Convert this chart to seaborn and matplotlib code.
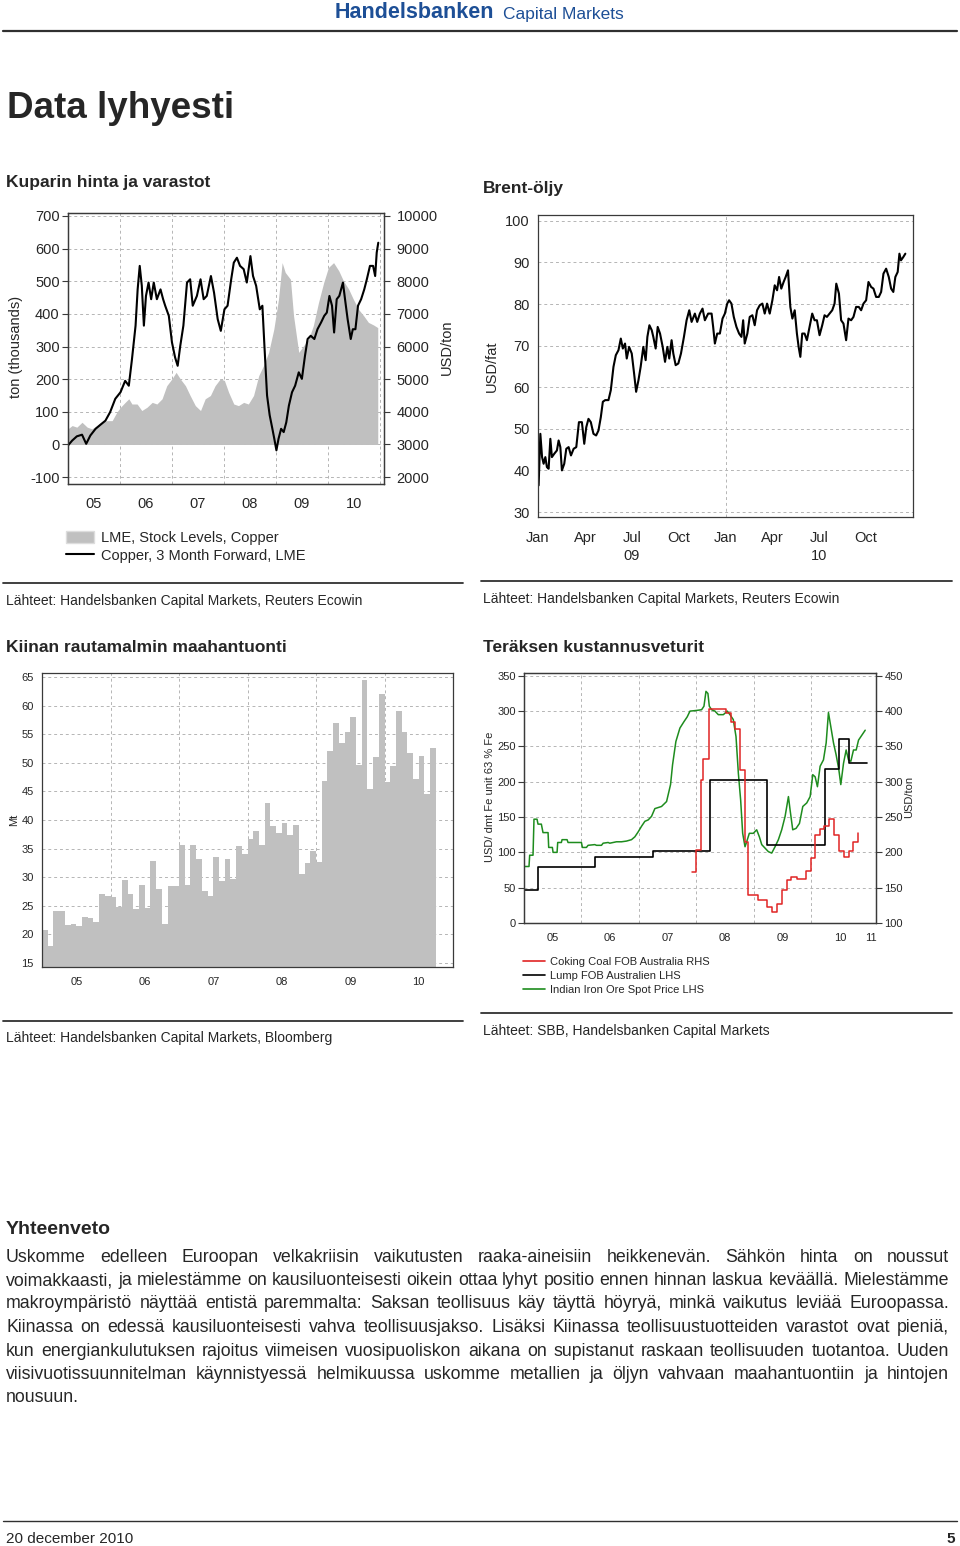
import pandas as pd
import seaborn as sns
import matplotlib.pyplot as plt
from matplotlib import font_manager
from matplotlib.lines import Line2D
from matplotlib.patches import Patch
from matplotlib.ticker import FixedLocator, FixedFormatter, NullFormatter

# ---- data ----
# copper: LME stocks (thousand tonnes, LHS) and 3M forward price (USD/ton, RHS)
copper_stocks = [
    (2005.00, 48), (2005.08, 58), (2005.17, 53), (2005.27, 68), (2005.37, 53), (2005.46, 48),
    (2005.56, 58), (2005.65, 68), (2005.75, 73), (2005.85, 73), (2005.94, 99), (2006.01, 114),
    (2006.10, 129), (2006.17, 140), (2006.23, 124), (2006.33, 124), (2006.42, 104), (2006.52, 114),
    (2006.62, 129), (2006.71, 124), (2006.81, 140), (2006.90, 180), (2007.00, 201), (2007.08, 221),
    (2007.16, 201), (2007.26, 180), (2007.35, 150), (2007.45, 119), (2007.55, 104), (2007.64, 140),
    (2007.74, 150), (2007.83, 180), (2007.93, 201), (2008.01, 196), (2008.09, 160), (2008.19, 124),
    (2008.28, 119), (2008.38, 129), (2008.47, 124), (2008.57, 150), (2008.67, 211), (2008.76, 241),
    (2008.86, 282), (2008.96, 353), (2009.05, 445), (2009.12, 557), (2009.18, 527), (2009.28, 506),
    (2009.34, 394), (2009.44, 282), (2009.53, 302), (2009.63, 323), (2009.72, 364), (2009.82, 435),
    (2009.92, 496), (2010.01, 542), (2010.11, 557), (2010.21, 532), (2010.30, 501), (2010.40, 476),
    (2010.49, 445), (2010.59, 414), (2010.69, 394), (2010.78, 374), (2010.88, 366), (2010.96, 358),
]
copper_price = [
    (2005.00, 2970), (2005.08, 3120), (2005.17, 3250), (2005.27, 3300), (2005.35, 3020), (2005.43, 3275),
    (2005.53, 3480), (2005.62, 3600), (2005.72, 3730), (2005.81, 3990), (2005.91, 4400), (2006.01, 4600),
    (2006.10, 4950), (2006.17, 4800), (2006.23, 5600), (2006.30, 6640), (2006.34, 7750), (2006.38, 8470),
    (2006.42, 7860), (2006.46, 6640), (2006.50, 7550), (2006.55, 7960), (2006.60, 7450), (2006.65, 7960),
    (2006.71, 7450), (2006.78, 7750), (2006.83, 7450), (2006.87, 7250), (2006.94, 6940), (2007.00, 6130),
    (2007.06, 5670), (2007.11, 5410), (2007.16, 6020), (2007.22, 6640), (2007.29, 7960), (2007.35, 8060),
    (2007.40, 7250), (2007.48, 7550), (2007.55, 8060), (2007.61, 7450), (2007.67, 7550), (2007.75, 8160),
    (2007.81, 7650), (2007.88, 6840), (2007.94, 6480), (2008.01, 7140), (2008.07, 7250), (2008.14, 8060),
    (2008.19, 8570), (2008.25, 8720), (2008.31, 8470), (2008.38, 8370), (2008.44, 7960), (2008.51, 8770),
    (2008.56, 8160), (2008.62, 7860), (2008.69, 7140), (2008.74, 7250), (2008.78, 6000), (2008.83, 4500),
    (2008.88, 3900), (2008.93, 3500), (2008.97, 3170), (2009.01, 2820), (2009.05, 3170), (2009.10, 3480),
    (2009.15, 3380), (2009.20, 3680), (2009.25, 4190), (2009.31, 4600), (2009.37, 4800), (2009.44, 5210),
    (2009.50, 5010), (2009.56, 5720), (2009.61, 6230), (2009.67, 6330), (2009.74, 6230), (2009.80, 6530),
    (2009.87, 6740), (2009.93, 6940), (2009.98, 7040), (2010.03, 7550), (2010.08, 7250), (2010.12, 6430),
    (2010.17, 7450), (2010.22, 7550), (2010.29, 7960), (2010.33, 7450), (2010.38, 6840), (2010.44, 6230),
    (2010.48, 6530), (2010.53, 6530), (2010.58, 7250), (2010.64, 7450), (2010.70, 7750), (2010.75, 8060),
    (2010.81, 8470), (2010.87, 8470), (2010.91, 8160), (2010.94, 8880), (2010.97, 9180),
]

# brent: months since Jan 2009, USD/barrel
brent = [
    (0.04, 36.4), (0.15, 48.8), (0.26, 43.2), (0.36, 41.6), (0.47, 43.2), (0.57, 40.8), (0.68, 40.4),
    (0.79, 47.6), (0.89, 43.2), (1.04, 44.0), (1.21, 44.8), (1.32, 47.2), (1.43, 45.6), (1.53, 40.0),
    (1.68, 41.6), (1.81, 45.2), (1.96, 45.6), (2.11, 43.6), (2.28, 45.2), (2.45, 45.6), (2.62, 51.6),
    (2.81, 51.6), (2.96, 46.4), (3.09, 50.4), (3.23, 52.4), (3.38, 51.6), (3.55, 48.8), (3.72, 48.4),
    (3.87, 49.6), (4.02, 52.8), (4.15, 56.5), (4.30, 56.9), (4.51, 56.9), (4.66, 59.3), (4.83, 64.9),
    (4.98, 67.7), (5.15, 68.9), (5.30, 71.7), (5.43, 69.3), (5.57, 70.5), (5.68, 66.9), (5.83, 69.7),
    (6.00, 68.1), (6.15, 63.3), (6.28, 58.9), (6.43, 61.7), (6.57, 64.9), (6.74, 69.7), (6.89, 66.5),
    (7.00, 72.1), (7.13, 74.9), (7.28, 73.7), (7.38, 72.1), (7.53, 69.3), (7.66, 74.5), (7.81, 72.9),
    (7.98, 69.7), (8.13, 66.1), (8.28, 69.7), (8.40, 66.9), (8.55, 71.3), (8.66, 68.1), (8.81, 65.3),
    (8.98, 65.7), (9.15, 68.1), (9.34, 72.1), (9.51, 76.1), (9.68, 78.5), (9.83, 75.7), (10.04, 77.7),
    (10.19, 75.7), (10.36, 77.7), (10.53, 78.9), (10.68, 76.1), (10.89, 77.7), (11.11, 77.7), (11.21, 74.5),
    (11.32, 70.5), (11.47, 72.9), (11.64, 72.9), (11.81, 76.5), (11.96, 77.7), (12.11, 80.1), (12.23, 80.9),
    (12.38, 80.1), (12.53, 76.9), (12.70, 74.5), (12.87, 72.9), (13.02, 72.1), (13.13, 76.1), (13.23, 70.5),
    (13.40, 72.9), (13.55, 76.9), (13.72, 77.3), (13.87, 74.9), (14.02, 78.5), (14.19, 79.7), (14.36, 80.1),
    (14.51, 77.7), (14.66, 80.1), (14.83, 77.7), (15.00, 80.9), (15.15, 84.5), (15.30, 83.3), (15.43, 86.5),
    (15.57, 83.7), (15.72, 85.3), (15.85, 86.5), (16.00, 88.1), (16.15, 79.3), (16.28, 76.5), (16.43, 78.5),
    (16.57, 72.9), (16.68, 69.7), (16.79, 67.3), (16.91, 72.9), (17.06, 72.9), (17.21, 71.3), (17.38, 74.5),
    (17.55, 77.7), (17.70, 76.1), (17.85, 76.1), (18.02, 72.5), (18.19, 74.9), (18.34, 77.3), (18.49, 76.9),
    (18.66, 77.7), (18.83, 78.5), (18.98, 80.1), (19.09, 84.9), (19.26, 82.5), (19.40, 76.1), (19.55, 75.3),
    (19.72, 71.3), (19.87, 76.5), (20.04, 76.1), (20.19, 76.9), (20.36, 79.3), (20.53, 79.3), (20.68, 78.5),
    (20.83, 80.1), (21.00, 80.9), (21.15, 85.3), (21.32, 84.1), (21.47, 83.7), (21.64, 81.7), (21.81, 81.7),
    (21.96, 82.9), (22.11, 87.3), (22.28, 88.5), (22.45, 86.5), (22.60, 83.7), (22.74, 82.9), (22.87, 86.5),
    (23.02, 87.7), (23.13, 92.1), (23.23, 90.5), (23.38, 91.3), (23.51, 92.1),
]
brent_ticks = ["Jan", "Apr", "Jul\n09", "Oct", "Jan", "Apr", "Jul\n10", "Oct"]

# China iron ore imports, Mt per month from Jan 2005
ore_imports = [
    20.7, 18.0, 24.1, 24.1, 21.6, 21.9, 21.5, 23.0, 22.9, 22.2, 27.1, 26.7,
    26.5, 24.8, 29.5, 27.1, 24.5, 28.6, 24.7, 32.8, 28.0, 21.9, 28.4, 28.5,
    35.7, 28.6, 35.6, 33.2, 27.5, 26.8, 33.5, 29.3, 33.1, 29.7, 35.4, 34.1,
    36.7, 38.1, 35.7, 42.9, 38.9, 37.7, 39.5, 37.3, 39.2, 30.6, 32.5, 34.5,
    32.7, 46.8, 52.1, 57.0, 53.4, 55.3, 58.0, 49.6, 64.5, 45.5, 51.1, 62.1,
    46.6, 49.4, 59.0, 55.3, 51.8, 47.2, 51.2, 44.6, 52.6,
]

# steel cost drivers (LHS USD/dmt Fe unit, RHS USD/ton)
iron_ore_spot = [
    (2005.000, 80), (2005.087, 80), (2005.099, 96), (2005.157, 96), (2005.174, 147), (2005.227, 147),
    (2005.244, 140), (2005.302, 140), (2005.331, 128), (2005.419, 128), (2005.430, 107), (2005.494, 107),
    (2005.506, 100), (2005.576, 100), (2005.587, 114), (2005.651, 114), (2005.663, 118), (2005.750, 118),
    (2005.767, 114), (2006.000, 114), (2006.017, 107), (2006.087, 107), (2006.116, 110), (2006.233, 111),
    (2006.262, 110), (2006.349, 110), (2006.378, 113), (2006.465, 114), (2006.494, 113), (2006.552, 114),
    (2006.610, 115), (2006.698, 115), (2006.785, 116), (2006.872, 118), (2006.930, 122), (2006.988, 129),
    (2007.047, 137), (2007.105, 144), (2007.163, 146), (2007.221, 151), (2007.279, 162), (2007.395, 165),
    (2007.483, 172), (2007.552, 196), (2007.587, 224), (2007.645, 257), (2007.715, 276), (2007.785, 285),
    (2007.843, 292), (2007.890, 300), (2008.006, 301), (2008.093, 302), (2008.134, 307), (2008.169, 328),
    (2008.203, 325), (2008.227, 307), (2008.267, 302), (2008.326, 300), (2008.384, 295), (2008.471, 295),
    (2008.541, 300), (2008.587, 295), (2008.645, 288), (2008.692, 264), (2008.733, 212), (2008.773, 174),
    (2008.808, 127), (2008.849, 108), (2008.878, 115), (2008.924, 127), (2008.994, 127), (2009.052, 132),
    (2009.099, 122), (2009.140, 111), (2009.198, 106), (2009.256, 101), (2009.314, 99), (2009.372, 108),
    (2009.430, 118), (2009.488, 132), (2009.547, 151), (2009.605, 179), (2009.634, 160), (2009.680, 132),
    (2009.738, 134), (2009.797, 141), (2009.855, 165), (2009.924, 170), (2009.983, 179), (2010.029, 210),
    (2010.070, 207), (2010.110, 193), (2010.157, 222), (2010.215, 231), (2010.262, 255), (2010.302, 298),
    (2010.343, 278), (2010.390, 255), (2010.436, 238), (2010.483, 217), (2010.517, 196), (2010.564, 226),
    (2010.610, 245), (2010.651, 231), (2010.692, 229), (2010.738, 245), (2010.785, 245), (2010.826, 259),
    (2010.884, 266), (2010.942, 273),
]
lump_fob = [
    (2005.00, 47), (2005.25, 79), (2006.24, 93), (2007.24, 102), (2008.24, 202),
    (2009.24, 111), (2010.24, 218), (2010.49, 260), (2010.66, 226), (2010.98, 226),
]
coking_coal = [
    (2007.919, 172), (2007.994, 204), (2008.076, 303), (2008.122, 332), (2008.221, 403), (2008.517, 397),
    (2008.599, 385), (2008.674, 375), (2008.762, 317), (2008.855, 215), (2008.895, 140), (2009.081, 133),
    (2009.238, 123), (2009.326, 115), (2009.413, 127), (2009.500, 147), (2009.576, 161), (2009.657, 165),
    (2009.750, 162), (2009.907, 173), (2009.994, 192), (2010.076, 225), (2010.157, 233), (2010.227, 237),
    (2010.314, 247), (2010.401, 225), (2010.488, 202), (2010.576, 194), (2010.663, 202), (2010.738, 215),
    (2010.814, 227),
]

summary_lines = [
    "Uskomme edelleen Euroopan velkakriisin vaikutusten raaka-aineisiin heikkenevän. Sähkön hinta on noussut",
    "voimakkaasti, ja mielestämme on kausiluonteisesti oikein ottaa lyhyt positio ennen hinnan laskua keväällä. Mielestämme",
    "makroympäristö näyttää entistä paremmalta: Saksan teollisuus käy täyttä höyryä, minkä vaikutus leviää Euroopassa.",
    "Kiinassa on edessä kausiluonteisesti vahva teollisuusjakso. Lisäksi Kiinassa teollisuustuotteiden varastot ovat pieniä,",
    "kun energiankulutuksen rajoitus viimeisen vuosipuoliskon aikana on supistanut raskaan teollisuuden tuotantoa. Uuden",
    "viisivuotissuunnitelman käynnistyessä helmikuussa uskomme metallien ja öljyn vahvaan maahantuontiin ja hintojen",
    "nousuun.",
]

W, H = 960, 1546
GRAY = "#c0c0c0"
GRID = dict(color="#b5b5b5", linestyle=(0, (3, 3)), linewidth=0.7)
SPINE = "#3a3a3a"


def fx(x):
    return x / W


def fy(y):
    return 1 - y / H


def put_axes(fig, x0, y0, x1, y1):
    return fig.add_axes([fx(x0), fy(y1), (x1 - x0) / W, (y1 - y0) / H])


def frame(ax, size):
    for s in ax.spines.values():
        s.set_color(SPINE)
        s.set_linewidth(0.9)
        s.set_visible(True)
    ax.tick_params(axis="both", which="both", direction="out", length=4, width=0.8,
                   color=SPINE, labelsize=size, pad=2)
    ax.set_xlabel("")
    ax.set_ylabel("")


def year_axis(ax, years, labels, label_pos, size, pad=7):
    ax.xaxis.set_major_locator(FixedLocator(years))
    ax.xaxis.set_major_formatter(NullFormatter())
    ax.xaxis.set_minor_locator(FixedLocator(label_pos))
    ax.xaxis.set_minor_formatter(FixedFormatter(labels))
    ax.tick_params(axis="x", which="minor", length=0, labelsize=size, pad=pad)


def unzip(pairs):
    return [p[0] for p in pairs], [p[1] for p in pairs]


def hline(fig, x0, x1, y, lw=1.3):
    fig.add_artist(Line2D([fx(x0), fx(x1)], [fy(y), fy(y)], color="#303030", lw=lw))


def text(fig, x, y, s, size, bold=False, **kw):
    return fig.text(fx(x), fy(y), s, fontsize=size, fontweight="bold" if bold else "normal",
                    va="center", **kw)


sns.set_style("white")
plt.rcParams["font.family"] = ["Liberation Sans", "DejaVu Sans"]
plt.rcParams["axes.unicode_minus"] = False

installed = {f.name for f in font_manager.fontManager.ttflist}
body_family = ["Liberation Sans Narrow"] if "Liberation Sans Narrow" in installed else ["Liberation Sans"]

fig = plt.figure(figsize=(9.6, 15.46), dpi=100)

# ---- header ----
text(fig, 335, 13, "Handelsbanken", 15.5, bold=True, color="#1d4f96")
text(fig, 503, 15, "Capital Markets", 12.5, color="#1d4f96")
hline(fig, 3, 957, 31, lw=1.6)
text(fig, 7, 108, "Data lyhyesti", 26.5, bold=True)

# ---- copper ----
text(fig, 6, 183, "Kuparin hinta ja varastot", 12.5, bold=True)
ax1 = put_axes(fig, 68, 213, 384, 484)
sx, sy = unzip(copper_stocks)
ax1.fill_between(sx, sy, 0, color=GRAY, lw=0)
ax1.set_ylim(-121, 709)
ax1.set_xlim(2005, 2011.08)
ax1.set_yticks(range(-100, 701, 100))
ax1.set_axisbelow(True)
ax1r = ax1.twinx()
px, py = unzip(copper_price)
sns.lineplot(x=px, y=py, ax=ax1r, color="black", linewidth=1.5, estimator=None)
ax1r.set_ylim(1790, 10090)
ax1r.set_yticks(range(2000, 10001, 1000))
frame(ax1, 10.5)
frame(ax1r, 10.5)
ax1r.tick_params(axis="y", pad=5)
year_axis(ax1, [2006, 2007, 2008, 2009, 2010, 2011], ["05", "06", "07", "08", "09", "10"],
          [2005.5, 2006.5, 2007.5, 2008.5, 2009.5, 2010.5], 10.5, pad=9)
ax1.grid(True, which="major", **GRID)
ax1.set_ylabel("ton (thousands)", fontsize=10.5)
ax1.yaxis.set_label_coords(-0.142, 0.505)
ax1r.set_ylabel("USD/ton", fontsize=10.5)
ax1r.yaxis.set_label_coords(1.177, 0.505)

fig.legend([Patch(facecolor=GRAY, edgecolor="#dddddd"), Line2D([], [], color="black", lw=1.5)],
           ["LME, Stock Levels, Copper", "Copper, 3 Month Forward, LME"],
           loc="upper left", bbox_to_anchor=(fx(66), fy(531)), frameon=False, fontsize=10.5,
           handlelength=1.9, handleheight=0.8, handletextpad=0.5, labelspacing=0.25,
           borderpad=0, borderaxespad=0)
hline(fig, 3, 463, 583)
text(fig, 6, 601, "Lähteet: Handelsbanken Capital Markets, Reuters Ecowin", 10)

# ---- brent ----
text(fig, 483, 188, "Brent-öljy", 12.5, bold=True)
ax2 = put_axes(fig, 538, 215, 913, 517)
bx, by = unzip(brent)
sns.lineplot(x=bx, y=by, ax=ax2, color="black", linewidth=1.5, estimator=None)
ax2.set_xlim(0, 24)
ax2.set_ylim(28.8, 101.4)
ax2.set_yticks(range(30, 101, 10))
ax2.set_xticks(range(0, 24, 3))
ax2.set_xticklabels(brent_ticks, linespacing=1.35)
ax2.xaxis.set_minor_locator(FixedLocator(range(0, 24)))
frame(ax2, 10.5)
ax2.tick_params(axis="x", which="major", pad=6)
ax2.set_axisbelow(True)
ax2.grid(True, axis="y", **GRID)
ax2.axvline(12, zorder=0.5, **GRID)
ax2.set_ylabel("USD/fat", fontsize=10.5)
ax2.yaxis.set_label_coords(-0.104, 0.5)
hline(fig, 481, 952, 581)
text(fig, 483, 599, "Lähteet: Handelsbanken Capital Markets, Reuters Ecowin", 10)

# ---- china iron ore imports ----
text(fig, 6, 647, "Kiinan rautamalmin maahantuonti", 12.5, bold=True)
ax3 = put_axes(fig, 42, 673, 453, 967)
months = pd.date_range("2005-01-01", periods=len(ore_imports), freq="MS")
mx = [d.year + (d.month - 0.5) / 12 for d in months]
sns.barplot(x=mx, y=ore_imports, native_scale=True, width=1, color=GRAY, saturation=1,
            linewidth=0, errorbar=None, ax=ax3)
ax3.set_xlim(2005, 2011)
ax3.set_ylim(14.3, 65.7)
ax3.set_yticks(range(15, 66, 5))
frame(ax3, 8)
year_axis(ax3, [2006, 2007, 2008, 2009, 2010], ["05", "06", "07", "08", "09", "10"],
          [2005.5, 2006.5, 2007.5, 2008.5, 2009.5, 2010.5], 8)
ax3.set_axisbelow(True)
ax3.grid(True, which="major", **GRID)
ax3.set_ylabel("Mt", fontsize=8)
ax3.yaxis.set_label_coords(-0.056, 0.5)
hline(fig, 3, 463, 1021)
text(fig, 6, 1038, "Lähteet: Handelsbanken Capital Markets, Bloomberg", 10)

# ---- steel cost drivers ----
text(fig, 483, 647, "Teräksen kustannusveturit", 12.5, bold=True)
ax4 = put_axes(fig, 524, 673, 876, 923)
gx, gy = unzip(iron_ore_spot)
lx, ly = unzip(lump_fob)
cx, cy = unzip(coking_coal)
sns.lineplot(x=gx, y=gy, ax=ax4, color="#1e8c1e", linewidth=1.1, estimator=None)
sns.lineplot(x=lx, y=ly, ax=ax4, color="black", linewidth=1.2, estimator=None, drawstyle="steps-post")
ax4.set_xlim(2005, 2011.13)
ax4.set_ylim(0, 354)
ax4.set_yticks(range(0, 351, 50))
ax4r = ax4.twinx()
sns.lineplot(x=cx, y=cy, ax=ax4r, color="#e02424", linewidth=1.1, estimator=None, drawstyle="steps-post")
ax4r.set_ylim(100, 454)
ax4r.set_yticks(range(100, 451, 50))
frame(ax4, 8)
frame(ax4r, 8)
year_axis(ax4, [2006, 2007, 2008, 2009, 2010], ["05", "06", "07", "08", "09", "10", "11"],
          [2005.5, 2006.5, 2007.5, 2008.5, 2009.5, 2010.5, 2011.05], 8)
ax4.set_axisbelow(True)
ax4.grid(True, which="major", **GRID)
ax4.set_ylabel("USD/ dmt Fe unit 63 % Fe", fontsize=8)
ax4.yaxis.set_label_coords(-0.082, 0.504)
ax4r.set_ylabel("USD/ton", fontsize=8)
ax4r.yaxis.set_label_coords(1.08, 0.504)
fig.legend([Line2D([], [], color="#e02424", lw=1.2), Line2D([], [], color="black", lw=1.2),
            Line2D([], [], color="#1e8c1e", lw=1.2)],
           ["Coking Coal FOB Australia RHS", "Lump FOB Australien LHS", "Indian Iron Ore Spot Price LHS"],
           loc="upper left", bbox_to_anchor=(fx(523), fy(957)), frameon=False, fontsize=8,
           handlelength=2.0, handletextpad=0.4, labelspacing=0.35, borderpad=0, borderaxespad=0)
hline(fig, 481, 952, 1013)
text(fig, 483, 1031, "Lähteet: SBB, Handelsbanken Capital Markets", 10)

# ---- summary text, justified ----
text(fig, 6, 1229, "Yhteenveto", 14, bold=True)
renderer = fig.canvas.get_renderer()
left, right = 6, 949


def width_px(s, size):
    t = fig.text(0, 0, s, fontsize=size, family=body_family)
    w = t.get_window_extent(renderer).width
    t.remove()
    return w


# largest size at which the longest line still fits with plain spaces
size = 13.0
while size > 9:
    widest = max(width_px(line, size) for line in summary_lines)
    if widest <= right - left:
        break
    size -= 0.1

space = width_px("a a", size) - width_px("aa", size)
for i, line in enumerate(summary_lines):
    y = 1257 + i * 23.5
    words = line.split(" ")
    widths = [width_px(w, size) for w in words]
    if i == len(summary_lines) - 1:
        gap = space
    else:
        gap = (right - left - sum(widths)) / (len(words) - 1)
    x = left
    for w, wd in zip(words, widths):
        fig.text(fx(x), fy(y), w, fontsize=size, family=body_family, va="center")
        x += wd + gap

# ---- footer ----
hline(fig, 3, 957, 1521, lw=1.0)
text(fig, 6, 1539, "20 december 2010", 11)
text(fig, 955, 1539, "5", 11, bold=True, ha="right")

fig.savefig("out.png", dpi=100)
